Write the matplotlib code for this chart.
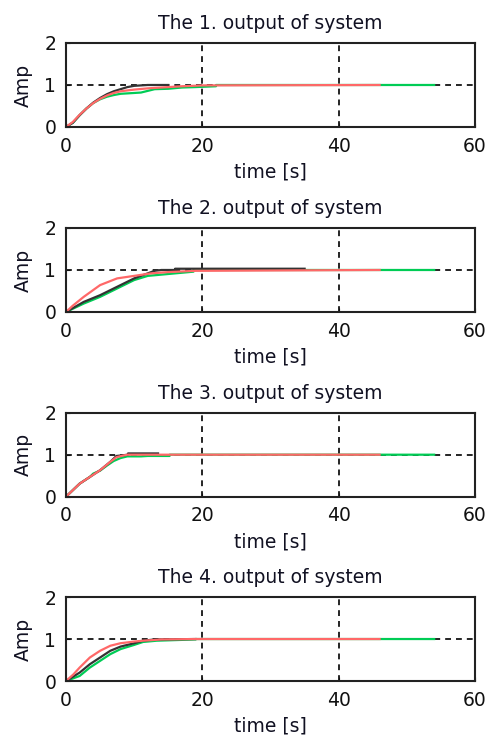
import numpy as np
import matplotlib.pyplot as plt

plt.rcParams['font.family'] = ['DejaVu Sans']

# step responses: (time, amplitude) for black, red, green
p1_black_t = [0, 1, 2, 3, 4, 5, 6, 7, 8, 9, 10, 11, 12, 15]
p1_black_y = [0, 0.10, 0.28, 0.44, 0.58, 0.69, 0.78, 0.85, 0.90, 0.95, 0.98, 0.99, 1.0, 1.0]
p1_red_t = [0, 1, 2, 3, 4, 5, 6, 7, 8, 10, 12, 14, 17, 20, 46]
p1_red_y = [0, 0.12, 0.29, 0.44, 0.57, 0.67, 0.75, 0.81, 0.85, 0.89, 0.92, 0.94, 0.97, 0.99, 1.0]
p1_green_t = [0, 1, 2, 3, 4, 5, 6, 7, 8, 9, 11, 13, 15, 17, 19, 22, 22, 54]
p1_green_y = [0, 0.10, 0.28, 0.44, 0.57, 0.66, 0.72, 0.76, 0.79, 0.80, 0.82, 0.90, 0.91, 0.94, 0.95, 0.97, 1.0, 1.0]

p2_black_t = [0, 2.6, 5, 7.5, 10, 12, 13, 14, 16, 16, 35]
p2_black_y = [0, 0.24, 0.40, 0.60, 0.80, 0.92, 0.98, 1.0, 1.0, 1.03, 1.03]
p2_red_t = [0, 1, 2.6, 5, 7.5, 10, 12.5, 15, 19, 46]
p2_red_y = [0, 0.15, 0.36, 0.64, 0.80, 0.86, 0.92, 0.95, 0.98, 1.0]
p2_green_t = [0, 2.6, 5, 7.5, 10, 12, 14.7, 18.7, 18.7, 54]
p2_green_y = [0, 0.20, 0.36, 0.56, 0.76, 0.86, 0.90, 0.96, 1.0, 1.0]

p3_black_t = [0, 2, 3.5, 5, 6.5, 7.4, 9.1, 9.1, 13.5]
p3_black_y = [0, 0.31, 0.47, 0.63, 0.83, 0.97, 1.0, 1.03, 1.03]
p3_red_t = [0, 2, 3.5, 5, 6.5, 7.4, 8.4, 9, 46]
p3_red_y = [0, 0.31, 0.47, 0.63, 0.83, 0.94, 0.98, 1.0, 1.0]
p3_green_t = [0, 2, 3.5, 4, 5, 6, 7, 8, 9, 11, 12, 15.2, 15.2, 54]
p3_green_y = [0, 0.31, 0.47, 0.55, 0.62, 0.74, 0.85, 0.92, 0.96, 0.96, 0.97, 0.97, 1.0, 1.0]

p4_black_t = [0, 2, 3.5, 5, 6.5, 8, 10, 11.3, 13, 19]
p4_black_y = [0, 0.20, 0.40, 0.56, 0.72, 0.82, 0.90, 0.96, 0.99, 1.0]
p4_red_t = [0, 1.1, 2, 3.5, 5, 6.5, 8, 10, 11.3, 14, 19, 46]
p4_red_y = [0, 0.16, 0.32, 0.56, 0.72, 0.84, 0.90, 0.94, 0.96, 0.99, 1.0, 1.0]
p4_green_t = [0, 2, 3.5, 5, 6.5, 8, 10, 11.3, 13.3, 19, 19, 54]
p4_green_y = [0, 0.12, 0.32, 0.48, 0.64, 0.76, 0.86, 0.93, 0.96, 0.99, 1.0, 1.0]

panels = [
    (p1_black_t, p1_black_y, p1_red_t, p1_red_y, p1_green_t, p1_green_y),
    (p2_black_t, p2_black_y, p2_red_t, p2_red_y, p2_green_t, p2_green_y),
    (p3_black_t, p3_black_y, p3_red_t, p3_red_y, p3_green_t, p3_green_y),
    (p4_black_t, p4_black_y, p4_red_t, p4_red_y, p4_green_t, p4_green_y),
]

x_ticks = [0, 20, 40, 60]
y_ticks = [0, 1, 2]

fig = plt.figure(figsize=(4.87, 7.40), dpi=100)
bottoms = [0.8284, 0.5784, 0.3288, 0.0797]

for k, (bt, by, rt, ry, gt, gy) in enumerate(panels):
    ax = fig.add_axes([0.1355, bottoms[k], 0.84, 0.1135])
    ax.plot(gt, gy, color='#00cc55', lw=1.6)
    ax.plot(bt, by, color='#333333', lw=1.6)
    ax.plot(rt, ry, color='#ff6868', lw=1.6)
    ax.set_xlim(0, 60)
    ax.set_ylim(0, 2)
    ax.set_xticks(x_ticks)
    ax.set_yticks(y_ticks)
    ax.grid(True, color='black', linestyle=(0, (3.5, 3)), linewidth=1.2)
    ax.tick_params(direction='in', length=3, labelsize=13.5, pad=7, colors='#111111')
    for s in ax.spines.values():
        s.set_linewidth(1.5)
        s.set_color('#222222')
    ax.set_title(f'The {k + 1}. output of system', fontsize=13.5, pad=10, color='#111122')
    ax.set_xlabel('time [s]', fontsize=13.5, labelpad=5, color='#111122')
    ax.set_ylabel('Amp', fontsize=13.5, labelpad=8, color='#111122')

plt.savefig('out.png', dpi=100)
